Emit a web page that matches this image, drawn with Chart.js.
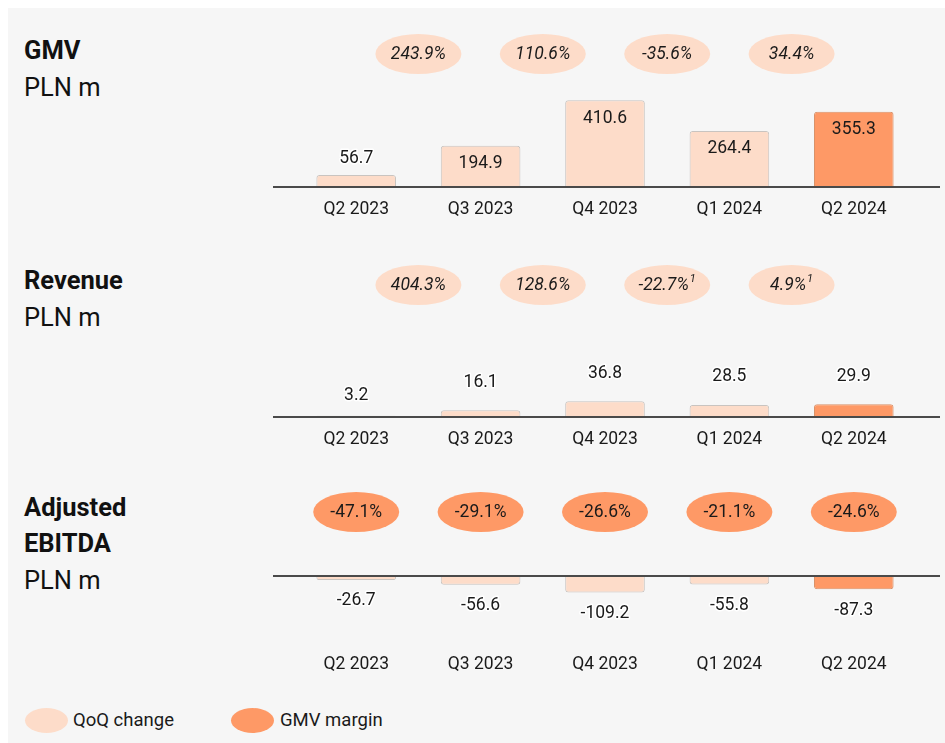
<!DOCTYPE html>
<html>
<head>
<meta charset="utf-8">
<script src="https://cdn.jsdelivr.net/npm/chart.js@4.4.1/dist/chart.umd.min.js"></script>
<style>
  body { margin: 0; background: #fff; font-family: Roboto, sans-serif; }
  #panel { position: absolute; left: 8px; top: 8px; width: 937px; height: 735px; background: #f6f6f6; }
  .ttl { position: absolute; left: 24px; font-size: 25.5px; line-height: 25.5px; color: #111; white-space: nowrap; }
  .b { font-weight: bold; }
  canvas { position: absolute; left: 273px; }
  .dot { position: absolute; top: 708px; width: 43px; height: 25px; border-radius: 50%; }
  .legtxt { position: absolute; top: 708px; font-size: 18.5px; line-height: 24px; color: #1a1a1a; }
</style>
</head>
<body>
<div id="panel"></div>

<div class="ttl b" style="top:38px">GMV</div>
<div class="ttl" style="top:75px">PLN m</div>
<div class="ttl b" style="top:268px">Revenue</div>
<div class="ttl" style="top:305px">PLN m</div>
<div class="ttl b" style="top:495px">Adjusted</div>
<div class="ttl b" style="top:531px">EBITDA</div>
<div class="ttl" style="top:568px">PLN m</div>

<canvas id="gmv" width="667" height="210" style="top:22px"></canvas>
<canvas id="rev" width="667" height="209" style="top:253px"></canvas>
<canvas id="ebitda" width="667" height="206" style="top:481px"></canvas>

<div class="dot" style="left:25px;background:#fddcc9"></div>
<div class="legtxt" style="left:73px">QoQ change</div>
<div class="dot" style="left:231px;background:#fe9966"></div>
<div class="legtxt" style="left:280px">GMV margin</div>

<script>
const quarters = ['Q2 2023', 'Q3 2023', 'Q4 2023', 'Q1 2024', 'Q2 2024'];
const gmvValues = [56.7, 194.9, 410.6, 264.4, 355.3];
const revenueValues = [3.2, 16.1, 36.8, 28.5, 29.9];
const ebitdaValues = [-26.7, -56.6, -109.2, -55.8, -87.3];
const gmvQoq = ['243.9%', '110.6%', '-35.6%', '34.4%'];
const revenueQoq = ['404.3%', '128.6%', '-22.7%', '4.9%'];
const revenueQoqNotes = ['', '', '1', '1'];
const ebitdaMargin = ['-47.1%', '-29.1%', '-26.6%', '-21.1%', '-24.6%'];

const light = '#fddcc9';
const orange = '#fe9966';
const barColors = [light, light, light, light, orange];
const barBorders = ['#c9c4c0', '#c9c4c0', '#c9c4c0', '#c9c4c0', '#d9926a'];

// labels, baseline and the oval badges
const decor = {
  id: 'decor',
  afterDatasetsDraw(chart, args, o) {
    const ctx = chart.ctx;
    const xs = chart.scales.x, ys = chart.scales.y;
    const zero = ys.getPixelForValue(0);
    ctx.save();
    ctx.strokeStyle = '#4a4a4a';
    ctx.lineWidth = 2;
    ctx.beginPath();
    ctx.moveTo(0, zero);
    ctx.lineTo(chart.width, zero);
    ctx.stroke();

    ctx.textAlign = 'center';
    ctx.textBaseline = 'middle';
    ctx.lineJoin = 'round';
    ctx.font = '17.5px Roboto';
    const vals = chart.data.datasets[0].data;
    chart.getDatasetMeta(0).data.forEach(function(bar, i) {
      var ty, halo = true;
      var h = Math.abs(zero - bar.y);
      if (o.labelMode == 'inside') {
        if (h > 30) { ty = bar.y + 18; halo = false; }
        else ty = bar.y - 16;
      }
      else if (o.labelMode == 'above') ty = bar.y - (h < 5 ? 20 : 28);
      else ty = bar.y + 21;
      var txt = vals[i].toFixed(1);
      if (halo) {
        ctx.strokeStyle = '#fff';
        ctx.lineWidth = 3;
        ctx.strokeText(txt, bar.x, ty);
      }
      ctx.fillStyle = '#1a1a1a';
      ctx.fillText(txt, bar.x, ty);
    });

    o.bubbles.forEach(function(t, i) {
      var cx = o.between ? (xs.getPixelForValue(i) + xs.getPixelForValue(i + 1)) / 2 : xs.getPixelForValue(i);
      ctx.fillStyle = o.color;
      ctx.beginPath();
      ctx.ellipse(cx, o.y, 43, 20, 0, 0, Math.PI * 2);
      ctx.fill();
      var mainFont = (o.italic ? 'italic ' : '') + '17.5px Roboto';
      var supFont = 'italic 11px Roboto';
      var note = o.notes ? o.notes[i] : '';
      ctx.font = mainFont;
      var w1 = ctx.measureText(t).width;
      ctx.font = supFont;
      var w2 = note ? ctx.measureText(note).width + 1 : 0;
      var left = cx - (w1 + w2) / 2;
      ctx.textAlign = 'left';
      ctx.fillStyle = '#1a1a1a';
      ctx.font = mainFont;
      ctx.fillText(t, left, o.y + 1);
      if (note) {
        ctx.font = supFont;
        ctx.fillText(note, left + w1 + 1, o.y - 6);
      }
      ctx.textAlign = 'center';
    });
    ctx.restore();
  }
};

function makeChart(id, values, yMin, yMax, deco) {
  return new Chart(document.getElementById(id), {
    type: 'bar',
    data: {
      labels: quarters,
      datasets: [{
        data: values,
        backgroundColor: barColors,
        borderColor: barBorders,
        borderWidth: 1,
        borderRadius: 3,
        barPercentage: 0.64,
        categoryPercentage: 1
      }]
    },
    options: {
      responsive: false,
      animation: false,
      layout: { padding: { left: 21, right: 24, top: 0, bottom: 0 } },
      scales: {
        x: {
          grid: { display: false, drawTicks: false },
          border: { display: false },
          ticks: { padding: 12, maxRotation: 0, color: '#1a1a1a', font: { family: 'Roboto', size: 17.5 } }
        },
        y: { display: false, min: yMin, max: yMax }
      },
      plugins: {
        legend: { display: false },
        tooltip: { enabled: false },
        decor: deco
      }
    },
    plugins: [decor]
  });
}

makeChart('gmv', gmvValues, 0, 780,
  { labelMode: 'inside', bubbles: gmvQoq, between: true, y: 32, color: light, italic: true });
makeChart('rev', revenueValues, 0, 386,
  { labelMode: 'above', bubbles: revenueQoq, notes: revenueQoqNotes, between: true, y: 32, color: light, italic: true });
makeChart('ebitda', ebitdaValues, -435, 627,
  { labelMode: 'below', bubbles: ebitdaMargin, between: false, y: 31, color: orange, italic: false });
</script>
</body>
</html>
